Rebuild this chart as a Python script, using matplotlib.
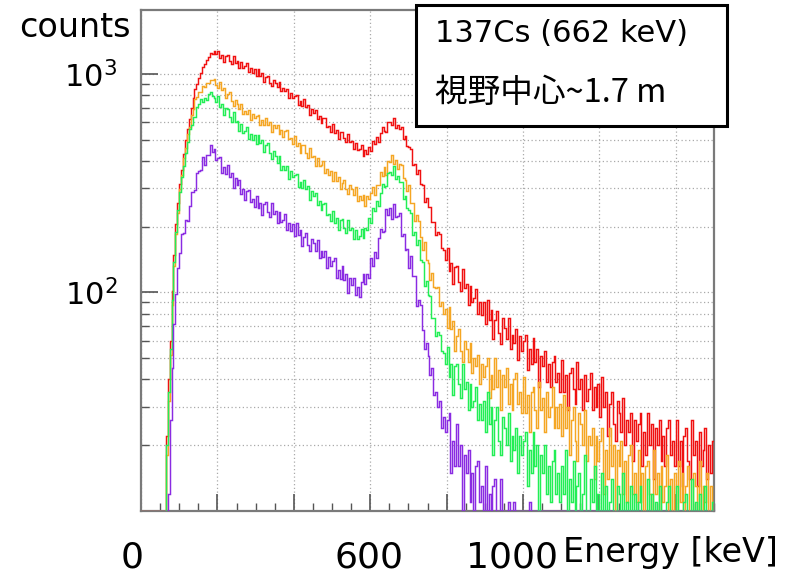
import numpy as np
import matplotlib
matplotlib.use("Agg")
import matplotlib.pyplot as plt
from matplotlib.patches import Rectangle
from matplotlib.ticker import LogLocator, NullFormatter, MultipleLocator

# 137Cs spectra, 5 keV bins from 0 to 1500 keV (one row = 100 keV)
BIN_EDGES = np.arange(0, 1505, 5)
YMIN, YMAX = 10, 1960

RED = [
    0, 0, 0, 0, 0, 0, 0, 0, 0, 0, 0, 0, 8, 22, 40, 60, 102, 148, 205, 256,
    312, 365, 432, 498, 560, 622, 701, 772, 852, 898, 962, 1005, 1071, 1108, 1162, 1198, 1252, 1231, 1279, 1238,
    1276, 1181, 1217, 1131, 1208, 1214, 1146, 1108, 1205, 1123, 1140, 1059, 1134, 1066, 1082, 1120, 1020, 1062, 1011, 1055,
    983, 1049, 981, 1004, 921, 963, 980, 912, 881, 938, 910, 870, 919, 831, 859, 832, 855, 777, 819, 779,
    796, 803, 721, 752, 714, 765, 703, 723, 649, 694, 664, 687, 622, 641, 595, 628, 630, 574, 579, 542,
    587, 534, 552, 505, 543, 543, 507, 486, 532, 489, 495, 451, 485, 449, 454, 471, 423, 447, 431, 464,
    442, 494, 479, 514, 486, 534, 569, 545, 543, 603, 601, 583, 629, 564, 585, 560, 570, 501, 517, 470,
    463, 452, 381, 386, 347, 362, 313, 310, 259, 271, 247, 247, 210, 210, 184, 190, 185, 160, 157, 141,
    159, 126, 136, 109, 131, 132, 112, 101, 128, 105, 109, 88, 107, 90, 94, 104, 80, 90, 79, 90,
    72, 92, 75, 83, 61, 75, 82, 65, 58, 76, 69, 61, 76, 55, 64, 59, 68, 49, 63, 54,
    60, 64, 44, 55, 47, 62, 48, 55, 37, 51, 46, 54, 39, 47, 37, 48, 51, 39, 43, 35,
    49, 35, 42, 29, 43, 45, 36, 31, 48, 36, 40, 29, 42, 32, 36, 43, 29, 37, 30, 38,
    27, 41, 30, 35, 22, 31, 35, 25, 21, 32, 28, 23, 33, 20, 26, 23, 28, 17, 26, 21,
    25, 28, 16, 23, 18, 28, 20, 25, 14, 24, 20, 26, 17, 22, 16, 24, 26, 18, 21, 16,
    26, 16, 21, 13, 22, 24, 17, 14, 26, 18, 21, 13, 23, 16, 19, 24, 14, 20, 15, 21,
]
ORANGE = [
    0, 0, 0, 0, 0, 0, 0, 0, 0, 0, 0, 0, 6, 18, 32, 52, 88, 132, 185, 232,
    296, 345, 412, 458, 528, 571, 648, 690, 771, 780, 830, 829, 881, 868, 912, 905, 941, 938, 951, 890,
    863, 921, 845, 861, 774, 811, 823, 752, 716, 761, 729, 688, 731, 653, 678, 657, 681, 614, 656, 625,
    643, 650, 586, 614, 585, 629, 583, 603, 543, 586, 564, 586, 532, 552, 514, 546, 551, 504, 510, 480,
    519, 467, 482, 436, 472, 472, 436, 414, 459, 416, 421, 380, 412, 378, 384, 399, 351, 367, 343, 359,
    325, 357, 325, 336, 298, 318, 327, 296, 282, 309, 298, 280, 303, 263, 276, 265, 278, 248, 276, 267,
    285, 304, 280, 311, 309, 355, 341, 374, 345, 398, 394, 426, 385, 404, 367, 388, 383, 333, 327, 292,
    311, 257, 257, 213, 225, 212, 180, 157, 170, 141, 137, 114, 123, 106, 105, 106, 87, 90, 80, 84,
    69, 86, 68, 74, 54, 63, 68, 54, 48, 60, 55, 48, 59, 43, 50, 46, 52, 38, 47, 41,
    46, 50, 33, 42, 36, 50, 37, 44, 29, 42, 37, 45, 31, 38, 29, 40, 43, 31, 35, 28,
    41, 28, 34, 23, 35, 37, 29, 24, 39, 29, 33, 23, 35, 27, 30, 37, 24, 30, 24, 31,
    22, 34, 24, 30, 18, 26, 30, 21, 17, 28, 25, 20, 29, 17, 22, 20, 24, 14, 22, 17,
    21, 24, 12, 19, 14, 24, 16, 20, 10, 19, 16, 21, 12, 17, 11, 18, 20, 12, 15, 11,
    19, 11, 15, 8, 16, 17, 12, 9, 19, 12, 15, 8, 16, 11, 13, 18, 9, 14, 10, 15,
    9, 17, 11, 15, 7, 13, 16, 10, 8, 15, 13, 10, 17, 8, 13, 11, 15, 7, 13, 10,
]
GREEN = [
    0, 0, 0, 0, 0, 0, 0, 0, 0, 0, 0, 0, 7, 20, 35, 55, 92, 138, 190, 238,
    289, 339, 378, 435, 490, 559, 586, 635, 637, 702, 725, 765, 744, 774, 762, 807, 825, 789, 779, 741,
    796, 709, 726, 651, 698, 694, 638, 605, 667, 603, 607, 546, 589, 539, 547, 571, 505, 530, 497, 523,
    478, 526, 481, 498, 441, 471, 482, 434, 410, 443, 420, 390, 419, 363, 380, 363, 379, 332, 359, 336,
    344, 348, 305, 321, 301, 327, 296, 306, 266, 290, 275, 286, 252, 262, 238, 255, 256, 227, 229, 212,
    235, 207, 218, 194, 215, 216, 198, 188, 215, 194, 198, 175, 194, 175, 181, 196, 177, 198, 194, 219,
    208, 243, 236, 263, 249, 286, 314, 304, 306, 353, 354, 343, 378, 330, 341, 319, 321, 269, 276, 243,
    238, 230, 183, 189, 164, 173, 141, 138, 107, 113, 97, 96, 76, 76, 63, 66, 64, 54, 53, 47,
    56, 41, 47, 34, 46, 47, 38, 33, 47, 36, 39, 29, 38, 30, 32, 37, 26, 31, 26, 32,
    23, 35, 25, 30, 18, 26, 30, 21, 18, 27, 24, 20, 28, 17, 22, 19, 24, 15, 22, 18,
    21, 23, 13, 19, 15, 23, 16, 20, 10, 18, 15, 20, 12, 16, 11, 17, 19, 12, 15, 11,
    16, 12, 19, 9, 14, 11, 17, 8, 13, 15, 9, 12, 18, 10, 8, 14, 11, 16, 9, 12,
    8, 15, 10, 13, 6, 11, 14, 9, 7, 13, 12, 9, 15, 7, 11, 10, 13, 6, 12, 9,
    11, 13, 6, 10, 8, 14, 9, 12, 5, 11, 9, 13, 7, 10, 6, 11, 13, 8, 10, 6,
    13, 7, 10, 5, 11, 12, 8, 6, 14, 8, 11, 5, 12, 7, 9, 13, 6, 10, 7, 11,
]
PURPLE = [
    0, 0, 0, 0, 0, 0, 0, 0, 0, 0, 0, 0, 0, 0, 12, 26, 45, 72, 98, 130,
    151, 186, 188, 215, 212, 248, 287, 289, 293, 353, 359, 362, 417, 382, 426, 424, 475, 438, 454, 404,
    412, 416, 353, 375, 347, 383, 339, 353, 299, 333, 311, 328, 283, 297, 266, 291, 295, 259, 267, 245,
    277, 243, 257, 227, 255, 258, 234, 221, 256, 228, 235, 207, 234, 210, 215, 228, 194, 207, 191, 205,
    181, 207, 183, 193, 163, 180, 188, 165, 155, 176, 168, 154, 173, 143, 154, 146, 155, 129, 145, 132,
    139, 143, 116, 127, 115, 132, 114, 122, 99, 116, 108, 117, 97, 106, 95, 112, 121, 109, 122, 117,
    143, 132, 153, 143, 178, 196, 190, 191, 242, 225, 243, 217, 253, 222, 224, 231, 182, 186, 157, 158,
    130, 147, 119, 119, 87, 92, 88, 67, 55, 59, 51, 42, 45, 34, 35, 30, 32, 24, 27, 23,
    26, 28, 15, 21, 16, 25, 16, 20, 10, 18, 15, 19, 11, 15, 10, 16, 17, 11, 13, 9,
    16, 9, 12, 6, 13, 14, 9, 7, 14, 9, 10, 5, 11, 7, 8, 11, 5, 8, 6, 9,
    10, 5, 8, 11, 4, 7, 9, 3, 6, 10, 4, 7, 3, 8, 5, 2, 9, 4, 3, 6,
    2, 7, 3, 1, 6, 2, 4, 1, 5, 2, 1, 4, 2, 6, 1, 3, 1, 5, 2, 1,
    3, 1, 2, 0, 4, 1, 2, 0, 3, 1, 0, 2, 1, 0, 3, 1, 0, 2, 0, 1,
    1, 0, 2, 0, 1, 0, 1, 2, 0, 1, 0, 1, 0, 2, 0, 1, 0, 1, 0, 1,
    0, 1, 0, 1, 0, 2, 0, 1, 0, 0, 1, 0, 1, 0, 1, 0, 0, 1, 0, 1,
]

SERIES = [
    (RED, "#f01010"),
    (ORANGE, "#f5a623"),
    (GREEN, "#22ee55"),
    (PURPLE, "#8a2be2"),
]
for counts, _ in SERIES:
    assert len(counts) == len(BIN_EDGES) - 1

W, H = 799, 574


def fx(px):
    return px / W


def fy(py):
    return 1 - py / H


fig = plt.figure(figsize=(W / 100, H / 100), dpi=100)
ax = fig.add_axes([fx(141), fy(511), (714 - 141) / W, (511 - 10) / H])

# empty bins sit on the bottom of the frame, like ROOT does
for counts, col in SERIES:
    ax.stairs(np.clip(counts, YMIN, None), BIN_EDGES, color=col, lw=1.05,
              baseline=None, zorder=3)

ax.set_yscale("log")
ax.set_xlim(0, 1500)
ax.set_ylim(YMIN, YMAX)

ax.xaxis.set_major_locator(MultipleLocator(200))
ax.xaxis.set_minor_locator(MultipleLocator(50))
ax.set_yticks([100, 1000])
ax.set_yticklabels([r"$\mathregular{10^{2}}$", r"$\mathregular{10^{3}}$"])
ax.yaxis.set_minor_locator(LogLocator(subs=np.arange(2, 10)))
ax.yaxis.set_minor_formatter(NullFormatter())

ax.set_axisbelow(True)
grid_kw = dict(color="#aaaaaa", ls=(0, (1, 2)), lw=0.9)
ax.grid(axis="x", which="major", **grid_kw)
ax.grid(axis="y", which="both", **grid_kw)

ax.tick_params(which="major", direction="in", length=12, width=1.2,
               color="#555555", top=False, right=False, labelbottom=False,
               labelsize=22, pad=17)
ax.tick_params(which="minor", direction="in", length=6, width=1.0,
               color="#555555", top=False, right=False)
for sp in ax.spines.values():
    sp.set_color("#7a7a7a")
    sp.set_linewidth(1.6)

fig.text(fx(19), fy(37), "counts", fontsize=24, va="baseline")
fig.text(fx(132.5), fy(567), "0", fontsize=26, ha="center", va="baseline")
fig.text(fx(369), fy(567), "600", fontsize=26, ha="center", va="baseline")
fig.text(fx(512), fy(567), "1000", fontsize=26, ha="center", va="baseline")
fig.text(fx(563), fy(562), "Energy [keV]", fontsize=24, va="baseline")

# source / distance box
fig.add_artist(Rectangle((fx(416), fy(126)), (727 - 416) / W, (126 - 5) / H,
                         transform=fig.transFigure, facecolor="white",
                         edgecolor="black", lw=2.2, zorder=5))
fig.text(fx(435), fy(42), "137Cs (662 keV)", fontsize=22, va="baseline", zorder=6)
fig.text(fx(435), fy(102), "視野中心~1.7 m", fontsize=23.5, va="baseline", zorder=6,
         family=["Noto Sans CJK JP", "DejaVu Sans"])

fig.savefig("out.png", dpi=100)
